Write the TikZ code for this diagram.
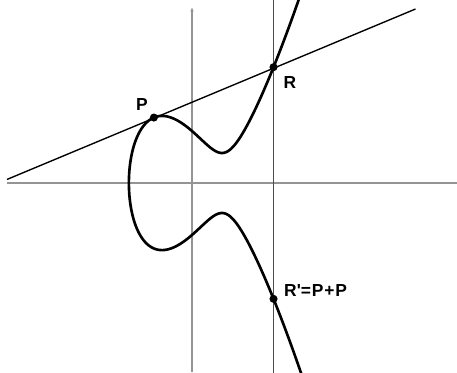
\documentclass[tikz,border=0pt]{standalone}
\usepackage{fontspec}
\setmainfont{Liberation Sans}
\newfontfamily\lblfont[LetterSpace=5,Ligatures=NoCommon]{Liberation Sans Bold}
\usetikzlibrary{arrows.meta}
\begin{document}
\begin{tikzpicture}[
  declare function={
    cx(\t)=-2.1038+\t*\t;
    cy(\t)=sign(\t)*sqrt(max(0,cx(\t)*cx(\t)*cx(\t)-3*cx(\t)+3));
  },
  axis/.style={draw=black!42, line width=1.1pt},
  vline/.style={draw=black!70, line width=1.4pt},
  tline/.style={draw=black, line width=1.3pt},
  curve/.style={draw=black, line width=2.5pt, line join=round},
  pt/.style={circle, fill=black, inner sep=0pt, minimum size=0.27cm},
  lbl/.style={font=\lblfont\fontsize{16.5}{18}\selectfont, inner sep=0pt, text=black}
]
\useasboundingbox (-6.4,-6.3) rectangle (8.833,6.1);
\clip (-6.4,-6.3) rectangle (8.833,6.1);
% coordinates
\coordinate (XL) at (-6.167,0);
\coordinate (XR) at (8.833,0);
\coordinate (YB) at (0,-6.3);
\coordinate (YT) at (0,5.85);
\coordinate (VT) at (2.7175,6.2);
\coordinate (VB) at (2.7175,-6.4);
\coordinate (TL) at (-6.167,0.1189);
\coordinate (TR) at (7.45,5.8);
% axes
\draw[axis] (XL) -- (XR);
\draw[axis, -{Stealth[length=4pt,width=3pt]}] (YB) -- (YT);
\draw[vline] (VB) -- (VT);
% tangent
\draw[tline] (TL) -- (TR);
% curve
\draw[curve] plot[variable=\t, domain=-2.46:2.46, samples=301, smooth] ({cx(\t)},{cy(\t)});
% points
\node[pt] (P) at (-1.27,2.18211) {};
\node[pt] (R) at (2.71751,3.86213) {};
\node[pt] (Rp) at (2.71751,-3.86213) {};
% labels
\node[lbl] (lP) at (-1.667,2.633) {P};
\node[lbl] (lR) at (3.267,3.333) {R};
\node[lbl, anchor=west] (lRp) at (3.067,-3.583) {R\textquotesingle=P+P};
\end{tikzpicture}
\end{document}
